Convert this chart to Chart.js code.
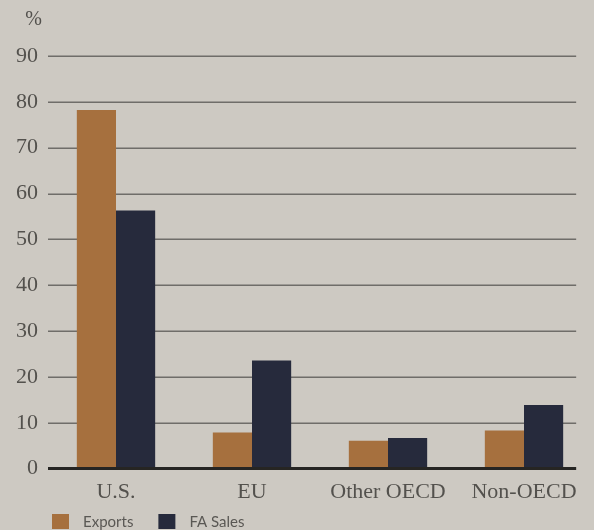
<!DOCTYPE html>
<html>
<head>
<meta charset="utf-8">
<script src="https://cdn.jsdelivr.net/npm/chart.js@4/dist/chart.umd.min.js"></script>
<style>
  html, body { margin: 0; padding: 0; background: #cdc9c2; overflow: hidden; }
  #wrap { width: 594px; height: 530px; }
</style>
</head>
<body>
<div id="wrap"><canvas id="c" width="594" height="530"></canvas></div>
<script>
// Share of sales by destination region, percent
const regions = ['U.S.', 'EU', 'Other OECD', 'Non-OECD'];
const exportsShare = [78.2, 7.9, 6.1, 8.3];
const faSalesShare = [56.3, 23.6, 6.7, 13.9];
const yTicks = [0, 10, 20, 30, 40, 50, 60, 70, 80, 90];

const TEXT = '#53514d';
const SERIF = '"Liberation Serif", "Times New Roman", serif';
const SANS = 'Lato, "Open Sans", sans-serif';

// Horizontal rules, heavy baseline, unit label and legend
const decor = {
  id: 'decor',
  beforeDatasetsDraw(chart) {
    const { ctx, chartArea, scales } = chart;
    const right = decor.rightEdge(chart);
    ctx.save();
    ctx.strokeStyle = '#6f6d69';
    ctx.lineWidth = 1.5;
    yTicks.forEach(v => {
      if (v === 0) return;
      const y = Math.round(scales.y.getPixelForValue(v)) + 0.25;
      ctx.beginPath();
      ctx.moveTo(chartArea.left, y);
      ctx.lineTo(right, y);
      ctx.stroke();
    });
    ctx.restore();
  },
  afterDatasetsDraw(chart) {
    const { ctx, chartArea, scales } = chart;
    const right = decor.rightEdge(chart);
    ctx.save();
    // baseline
    const y0 = scales.y.getPixelForValue(0);
    ctx.strokeStyle = '#262523';
    ctx.lineWidth = 3;
    ctx.beginPath();
    ctx.moveTo(chartArea.left, y0);
    ctx.lineTo(right, y0);
    ctx.stroke();

    // unit label
    ctx.fillStyle = TEXT;
    ctx.font = '20px ' + SERIF;
    ctx.textAlign = 'right';
    ctx.textBaseline = 'middle';
    ctx.fillText('%', chartArea.left - 6, chartArea.top - 36);

    // legend
    ctx.font = '15px ' + SANS;
    ctx.textAlign = 'left';
    ctx.textBaseline = 'middle';
    let x = chartArea.left + 4;
    const cy = 521;
    chart.data.datasets.forEach(ds => {
      ctx.fillStyle = ds.backgroundColor;
      ctx.fillRect(x, cy - 7, 17, 15);
      ctx.fillStyle = '#5a5854';
      ctx.fillText(ds.label, x + 31, cy + 1);
      x += 31 + ctx.measureText(ds.label).width + 25;
    });
    ctx.restore();
  },
  rightEdge(chart) {
    const meta = chart.getDatasetMeta(chart.data.datasets.length - 1);
    const bar = meta.data[meta.data.length - 1];
    return bar.x + bar.width / 2 + 13;
  }
};

new Chart(document.getElementById('c'), {
  type: 'bar',
  data: {
    labels: regions,
    datasets: [
      { label: 'Exports', data: exportsShare, backgroundColor: '#a6703e' },
      { label: 'FA Sales', data: faSalesShare, backgroundColor: '#262a3c' }
    ]
  },
  options: {
    responsive: false,
    animation: false,
    layout: { padding: { left: 6, right: 2, top: 56, bottom: 15 } },
    datasets: {
      bar: { barPercentage: 1.0, categoryPercentage: 0.576 }
    },
    plugins: {
      legend: { display: false },
      tooltip: { enabled: false }
    },
    scales: {
      x: {
        grid: { display: false, drawTicks: false },
        border: { display: false },
        ticks: { color: TEXT, font: { family: SERIF, size: 22 }, padding: 10, maxRotation: 0 }
      },
      y: {
        min: 0,
        max: 90,
        grid: { display: false, drawTicks: false },
        border: { display: false },
        afterBuildTicks(scale) { scale.ticks = yTicks.map(v => ({ value: v })); },
        ticks: { color: TEXT, font: { family: SERIF, size: 22 }, padding: 10 }
      }
    }
  },
  plugins: [decor]
});
</script>
</body>
</html>
